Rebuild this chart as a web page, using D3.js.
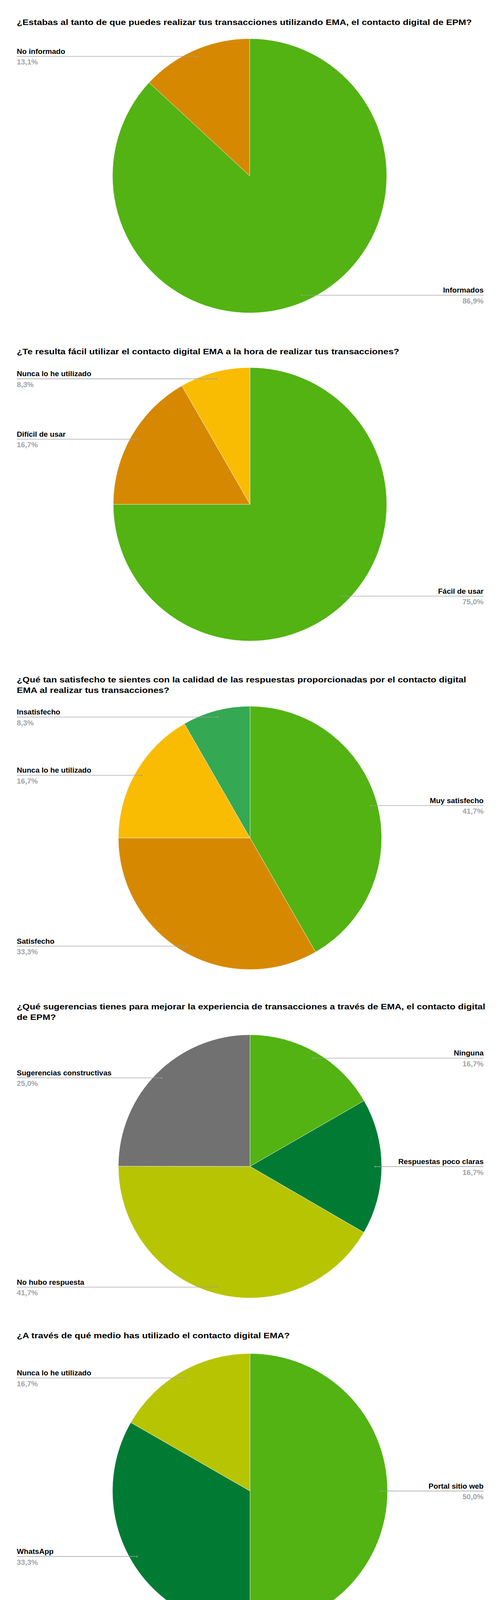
<!DOCTYPE html>
<html>
<head>
<meta charset="utf-8">
<script src="https://cdn.jsdelivr.net/npm/d3@7"></script>
<style>
  html, body { margin: 0; padding: 0; background: #fff; }
  svg { display: block; }
  text { font-family: Arial, "Liberation Sans", Helvetica, sans-serif; font-weight: bold; }
</style>
</head>
<body>
<svg id="chart" width="1280" height="4212"></svg>
<script>
// ---- Data ----
const titles1 = ["¿Estabas al tanto de que puedes realizar tus transacciones utilizando EMA, el contacto digital de EPM?"];
const categories1 = ["Informados", "No informado"];
const values1 = [86.9, 13.1];
const colors1 = ["#52B313", "#D68900"];

const titles2 = ["¿Te resulta fácil utilizar el contacto digital EMA a la hora de realizar tus transacciones?"];
const categories2 = ["Fácil de usar", "Difícil de usar", "Nunca lo he utilizado"];
const values2 = [75.0, 16.7, 8.3];
const colors2 = ["#52B313", "#D68900", "#F9BC02"];

const titles3 = ["¿Qué tan satisfecho te sientes con la calidad de las respuestas proporcionadas por el contacto digital",
                 "EMA al realizar tus transacciones?"];
const categories3 = ["Muy satisfecho", "Satisfecho", "Nunca lo he utilizado", "Insatisfecho"];
const values3 = [41.7, 33.3, 16.7, 8.3];
const colors3 = ["#52B313", "#D68900", "#F9BC02", "#34A853"];

const titles4 = ["¿Qué sugerencias tienes para mejorar la experiencia de transacciones a través de EMA, el contacto digital",
                 "de EPM?"];
const categories4 = ["Ninguna", "Respuestas poco claras", "No hubo respuesta", "Sugerencias constructivas"];
const values4 = [16.7, 16.7, 41.7, 25.0];
const colors4 = ["#52B313", "#017B34", "#B7C402", "#717171"];

const titles5 = ["¿A través de qué medio has utilizado el contacto digital EMA?"];
const categories5 = ["Portal sitio web", "WhatsApp", "Nunca lo he utilizado"];
const values5 = [50.0, 33.3, 16.7];
const colors5 = ["#52B313", "#017B34", "#B7C402"];

// ---- Layout ----
const layouts = [
  { titles: titles1, cats: categories1, vals: values1, cols: colors1, ty: 64,   cx: 639, cy: 450,  r: 351 },
  { titles: titles2, cats: categories2, vals: values2, cols: colors2, ty: 907,  cx: 640, cy: 1291, r: 350 },
  { titles: titles3, cats: categories3, vals: values3, cols: colors3, ty: 1747, cx: 640, cy: 2145, r: 337 },
  { titles: titles4, cats: categories4, vals: values4, cols: colors4, ty: 2584, cx: 640, cy: 2986, r: 337 },
  { titles: titles5, cats: categories5, vals: values5, cols: colors5, ty: 3426, cx: 640, cy: 3817, r: 352 }
];

const LEFT_X = 43, RIGHT_X = 1238;
const TITLE_SX = 1.13, LABEL_SX = 1.06;
const fmt = v => d3.format(".1f")(v).replace(".", ",") + "%";

const svg = d3.select("#chart");
svg.append("rect").attr("width", 1280).attr("height", 4212).attr("fill", "#fff");

function addText(g, x, y, sx, anchor, size, fill, str) {
  return g.append("text")
    .attr("transform", `translate(${x},${y}) scale(${sx},1)`)
    .attr("text-anchor", anchor)
    .attr("font-size", size)
    .attr("fill", fill)
    .text(str);
}

layouts.forEach(L => {
  const g = svg.append("g");

  // title
  L.titles.forEach((t, i) => addText(g, LEFT_X, L.ty + i * 27, TITLE_SX, "start", 21, "#000", t));

  const data = L.cats.map((c, i) => ({ cat: c, val: L.vals[i], col: L.cols[i] }));
  const pie = d3.pie().value(d => d.val).sort(null);
  const arcs = pie(data);
  const arc = d3.arc().innerRadius(0).outerRadius(L.r);

  const pg = g.append("g").attr("transform", `translate(${L.cx},${L.cy})`);
  pg.selectAll("path").data(arcs).join("path")
    .attr("d", arc)
    .attr("fill", d => d.data.col)
    .attr("stroke", "#fff")
    .attr("stroke-width", 0.7);

  // labels
  const k = 0.95 * L.r;
  arcs.forEach(a => {
    const mid = (a.startAngle + a.endAngle) / 2;
    const px = L.cx + Math.sin(mid) * k;
    const py = L.cy - Math.cos(mid) * k;
    const left = mid > Math.PI;
    const tx = left ? LEFT_X : RIGHT_X;
    const anchor = left ? "start" : "end";

    g.append("line")
      .attr("x1", tx).attr("x2", px)
      .attr("y1", py).attr("y2", py)
      .attr("stroke", "#9E9E9E")
      .attr("stroke-width", 1.3);
    g.append("circle")
      .attr("cx", px).attr("cy", py).attr("r", 1.8)
      .attr("fill", "#9E9E9E");
    addText(g, tx, py - 6.5, LABEL_SX, anchor, 18, "#000", a.data.cat);
    addText(g, tx, py + 21, LABEL_SX, anchor, 18, "#A3A3A3", fmt(a.data.val));
  });
});
</script>
</body>
</html>
